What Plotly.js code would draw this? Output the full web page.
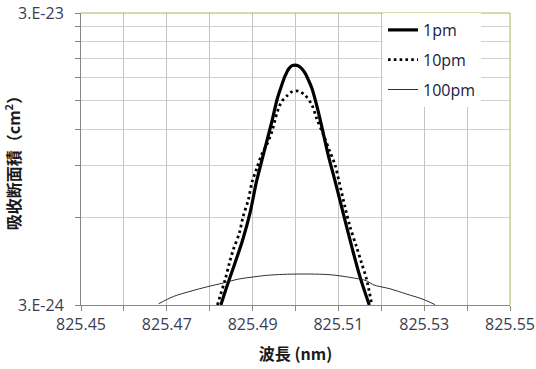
<!DOCTYPE html>
<html>
<head>
<meta charset="utf-8">
<script src="https://cdn.plot.ly/plotly-3.0.1.min.js"></script>
<style>html,body{margin:0;padding:0;background:#fff;}#chart{width:536px;height:369px;}</style>
</head>
<body>
<div id="chart"></div>
<script>
// Wavelength (nm) and absorption cross-section (cm^2)
const wl1pm = [825.4826, 825.4840, 825.4859, 825.4877, 825.4894, 825.4909, 825.4921, 825.4933, 825.4945, 825.4958, 825.4968, 825.4976, 825.4984, 825.4992, 825.4999, 825.5006, 825.5014, 825.5022, 825.5030, 825.5038, 825.5049, 825.5062, 825.5076, 825.5092, 825.5111, 825.5131, 825.5150, 825.5172];
const cs1pm = [3.0e-24, 3.47e-24, 4.18e-24, 5.02e-24, 6.20e-24, 7.93e-24, 9.31e-24, 1.09e-23, 1.276e-23, 1.535e-23, 1.70e-23, 1.83e-23, 1.93e-23, 1.98e-23, 1.99e-23, 1.98e-23, 1.94e-23, 1.87e-23, 1.77e-23, 1.66e-23, 1.456e-23, 1.211e-23, 9.82e-24, 8.0e-24, 6.20e-24, 4.76e-24, 3.76e-24, 3.0e-24];

const wl10pm = [825.4818, 825.4824, 825.4836, 825.4846, 825.4855, 825.4869, 825.4878, 825.4890, 825.4899, 825.4910, 825.4921, 825.4933, 825.4945, 825.4958, 825.4968, 825.4981, 825.4992, 825.5007, 825.5022, 825.5038, 825.5049, 825.5065, 825.5080, 825.5092, 825.5102, 825.5115, 825.5127, 825.5142, 825.5154, 825.5166, 825.5177];
const cs10pm = [3.0e-24, 3.21e-24, 3.66e-24, 4.18e-24, 4.64e-24, 5.29e-24, 6.03e-24, 6.88e-24, 7.93e-24, 8.83e-24, 9.82e-24, 1.062e-23, 1.179e-23, 1.381e-23, 1.494e-23, 1.565e-23, 1.613e-23, 1.62e-23, 1.57e-23, 1.456e-23, 1.311e-23, 1.149e-23, 1.007e-23, 9.07e-24, 7.90e-24, 6.53e-24, 5.57e-24, 4.76e-24, 4.18e-24, 3.66e-24, 3.05e-24];

const wl100pm = [825.4681, 825.4716, 825.4754, 825.4793, 825.4832, 825.4867, 825.4894, 825.4933, 825.4972, 825.5010, 825.5034, 825.5080, 825.5127, 825.5166, 825.5181, 825.5220, 825.5259, 825.5297, 825.5325];
const cs100pm = [3.03e-24, 3.21e-24, 3.34e-24, 3.46e-24, 3.57e-24, 3.68e-24, 3.73e-24, 3.79e-24, 3.82e-24, 3.83e-24, 3.83e-24, 3.81e-24, 3.73e-24, 3.63e-24, 3.52e-24, 3.41e-24, 3.27e-24, 3.14e-24, 3.01e-24];

const seriesNames = ['1pm', '10pm', '100pm'];

const xTickVals = [825.45, 825.47, 825.49, 825.51, 825.53, 825.55];
const xTickText = ['825.45', '825.47', '825.49', '825.51', '825.53', '825.55'];
const xMinorVals = [825.46, 825.48, 825.50, 825.52, 825.54];
const yTickVals = [3e-24, 3e-23];
const yTickText = ['3.E-24', '3.E-23'];
const yMinorVals = [6e-24, 9e-24, 12e-24, 15e-24, 18e-24, 21e-24, 24e-24, 27e-24];

const traces = [
  {x: wl1pm, y: cs1pm, name: seriesNames[0], legendgroup: 'g1', mode: 'lines',
   line: {color: '#000000', width: 3.2, shape: 'spline', smoothing: 0.9}},
  {x: wl10pm, y: cs10pm, name: seriesNames[1], legendgroup: 'g2', mode: 'lines',
   line: {color: '#000000', width: 2.8, dash: '2.6px,3.2px', shape: 'spline', smoothing: 0.9}},
  {x: wl100pm, y: cs100pm, name: seriesNames[2], legendgroup: 'g3', mode: 'lines',
   line: {color: '#1a1a1a', width: 0.9, shape: 'spline', smoothing: 0.9}}
];

const tickFont = {family: '"Open Sans", sans-serif', size: 16, color: '#3c3c50'};
const titleFont = {family: '"Noto Sans CJK JP", sans-serif', size: 16, color: '#1a1a1a', weight: 'bold'};

const layout = {
  width: 536, height: 369,
  margin: {l: 81, r: 26, t: 13, b: 64, pad: 0},
  paper_bgcolor: '#ffffff', plot_bgcolor: '#ffffff',
  showlegend: true,
  legend: {x: 0.704, y: 1, xanchor: 'left', yanchor: 'top', bgcolor: '#ffffff',
           borderwidth: 0, font: {family: '"Open Sans", sans-serif', size: 16, color: '#202040'},
           entrywidth: 108, tracegroupgap: 6},
  xaxis: {
    type: 'linear', range: [825.45, 825.55], autorange: false,
    tickmode: 'array', tickvals: xTickVals, ticktext: xTickText,
    ticks: 'outside', ticklen: 5, tickcolor: '#868686', tickwidth: 1,
    showgrid: true, gridcolor: '#c4c4c4', gridwidth: 1,
    showline: true, linecolor: '#868686', linewidth: 1, zeroline: false,
    tickfont: tickFont,
    minor: {tickmode: 'array', tickvals: xMinorVals, ticks: 'outside', ticklen: 5,
            tickcolor: '#868686', showgrid: true, gridcolor: '#c4c4c4', gridwidth: 1},
    title: {text: '波長 (nm)', font: titleFont, standoff: 14}
  },
  yaxis: {
    type: 'log', range: [Math.log10(3e-24), Math.log10(3e-23)], autorange: false,
    tickmode: 'array', tickvals: yTickVals, ticktext: yTickText,
    ticks: 'outside', ticklen: 5, tickcolor: '#868686', tickwidth: 1,
    showgrid: true, gridcolor: '#d0d0d0', gridwidth: 1,
    showline: true, linecolor: '#868686', linewidth: 1, zeroline: false,
    tickfont: tickFont, ticklabelstandoff: 8,
    minor: {tickmode: 'array', tickvals: yMinorVals, ticks: 'outside', ticklen: 5,
            tickcolor: '#868686', showgrid: true, gridcolor: '#d0d0d0', gridwidth: 1},
    title: {text: '吸收断面積（cm<sup>2</sup>）', font: titleFont, standoff: 10}
  },
  shapes: [
    {type: 'line', xref: 'paper', yref: 'paper', x0: 0, x1: 1, y0: 1, y1: 1,
     line: {color: '#9bbb59', width: 1}},
    {type: 'line', xref: 'paper', yref: 'paper', x0: 1, x1: 1, y0: 0, y1: 1,
     line: {color: '#9bbb59', width: 1}}
  ]
};

Plotly.newPlot('chart', traces, layout, {staticPlot: true, displayModeBar: false});
</script>
</body>
</html>
